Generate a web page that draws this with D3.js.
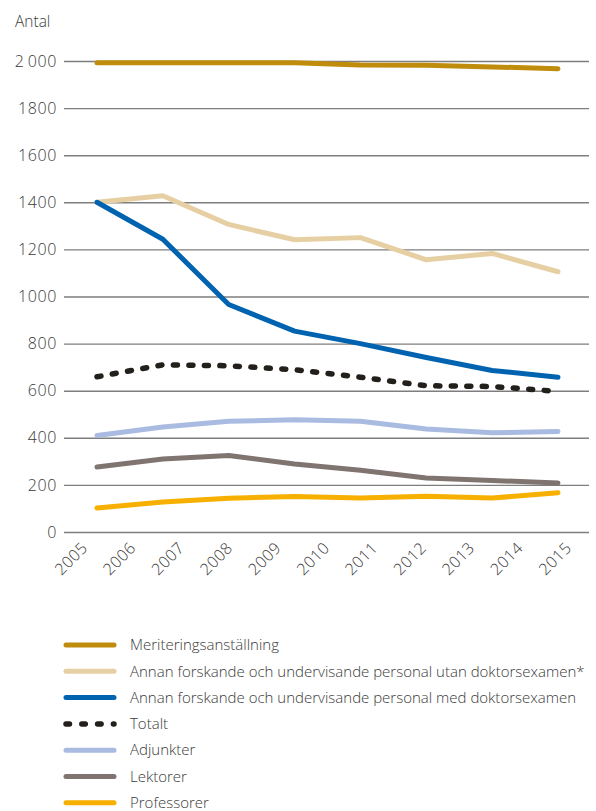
<!DOCTYPE html>
<html>
<head>
<meta charset="utf-8">
<script src="https://cdn.jsdelivr.net/npm/d3@7"></script>
<style>
  html, body { margin: 0; padding: 0; background: #fff; }
  svg text { font-family: "Open Sans", Lato, sans-serif; font-weight: 300; fill: #3a3a3a; }
</style>
</head>
<body>
<svg id="chart" width="596" height="811"></svg>
<script>
// Academic staff counts, 2005–2015
const years = ["2005","2006","2007","2008","2009","2010","2011","2012","2013","2014","2015"];
const yTicks = [0, 200, 400, 600, 800, 1000, 1200, 1400, 1600, 1800, 2000];
const yTickLabels = ["0","200","400","600","800","1000","1200","1400","1600","1800","2\u2009000"];

const seriesNames = [
  "Meriteringsanställning",
  "Annan forskande och undervisande personal utan doktorsexamen*",
  "Annan forskande och undervisande personal med doktorsexamen",
  "Totalt",
  "Adjunkter",
  "Lektorer",
  "Professorer"
];
const meritering = [1993, 1993, 1993, 1993, 1983, 1982, 1975, 1967];
const utanDoktor = [1400, 1428, 1306, 1241, 1250, 1156, 1183, 1105];
const medDoktor  = [1400, 1243, 966, 853, 800, 741, 686, 657];
const totalt     = [659, 710, 706, 689, 657, 621, 618, 597];
const adjunkter  = [410, 446, 470, 477, 470, 437, 421, 427];
const lektorer   = [276, 310, 325, 289, 262, 229, 219, 208];
const professorer= [102, 127, 143, 151, 144, 152, 144, 167];

const seriesColors = ["#c08c0c", "#e6cfa3", "#0063b0", "#231f1a", "#a9bbe0", "#7f7470", "#f8b000"];
const seriesValues = [meritering, utanDoktor, medDoktor, totalt, adjunkter, lektorer, professorer];
const dashed = [false, false, false, true, false, false, false];

const svg = d3.select("#chart");

const gridLeft = 64, gridRight = 589;
const y = d3.scaleLinear().domain([0, 2000]).range([532, 61]);
// observation positions along the time axis
const xObs = d3.scaleLinear().domain([0, meritering.length - 1]).range([97, 558]);
// year labels along the bottom
const xYear = d3.scalePoint().domain(years).range([80, 564]);

// y axis with gridlines
const yAxis = d3.axisLeft(y)
  .tickValues(yTicks)
  .tickSize(-(gridRight - gridLeft))
  .tickPadding(7)
  .tickFormat((d, i) => yTickLabels[i]);
const gy = svg.append("g").attr("transform", `translate(${gridLeft},0)`).call(yAxis);
gy.select(".domain").remove();
gy.selectAll(".tick line").attr("stroke", "#7e7e7e").attr("stroke-width", 1.4);
gy.selectAll(".tick text").attr("font-size", 16).attr("letter-spacing", 0.6).attr("fill", "#3a3a3a");

svg.append("text").attr("x", 15).attr("y", 27).attr("font-size", 15.5).text("Antal");

// x axis labels, rotated
const xAxis = d3.axisBottom(xYear).tickSize(0).tickPadding(0);
const gx = svg.append("g").attr("transform", "translate(0,541)").call(xAxis);
gx.select(".domain").remove();
gx.selectAll(".tick text")
  .attr("font-size", 16)
  .attr("letter-spacing", 0.4)
  .attr("fill", "#3a3a3a")
  .attr("text-anchor", "end")
  .attr("dy", "0.7em")
  .attr("y", 0)
  .attr("transform", "rotate(-45)");

// series lines
const line = d3.line().x((d, i) => xObs(i)).y(d => y(d));
seriesValues.forEach((vals, k) => {
  const p = svg.append("path")
    .datum(vals)
    .attr("fill", "none")
    .attr("stroke", seriesColors[k])
    .attr("stroke-width", 5)
    .attr("stroke-linecap", "round")
    .attr("stroke-linejoin", "round")
    .attr("d", line);
  if (dashed[k]) p.attr("stroke-dasharray", "4 11.5").attr("stroke-width", 5.5);
});

// legend
const legend = svg.append("g");
seriesNames.forEach((name, k) => {
  const yy = 645 + k * 26.3;
  const l = legend.append("line")
    .attr("x1", 66).attr("x2", 114)
    .attr("y1", yy).attr("y2", yy)
    .attr("stroke", seriesColors[k])
    .attr("stroke-width", 5)
    .attr("stroke-linecap", "round");
  if (dashed[k]) l.attr("stroke-dasharray", "3.5 12.3").attr("stroke-width", 5.5);
  legend.append("text")
    .attr("x", 130).attr("y", yy)
    .attr("dy", "0.35em")
    .attr("font-size", 15)
    .text(name);
});
</script>
</body>
</html>
